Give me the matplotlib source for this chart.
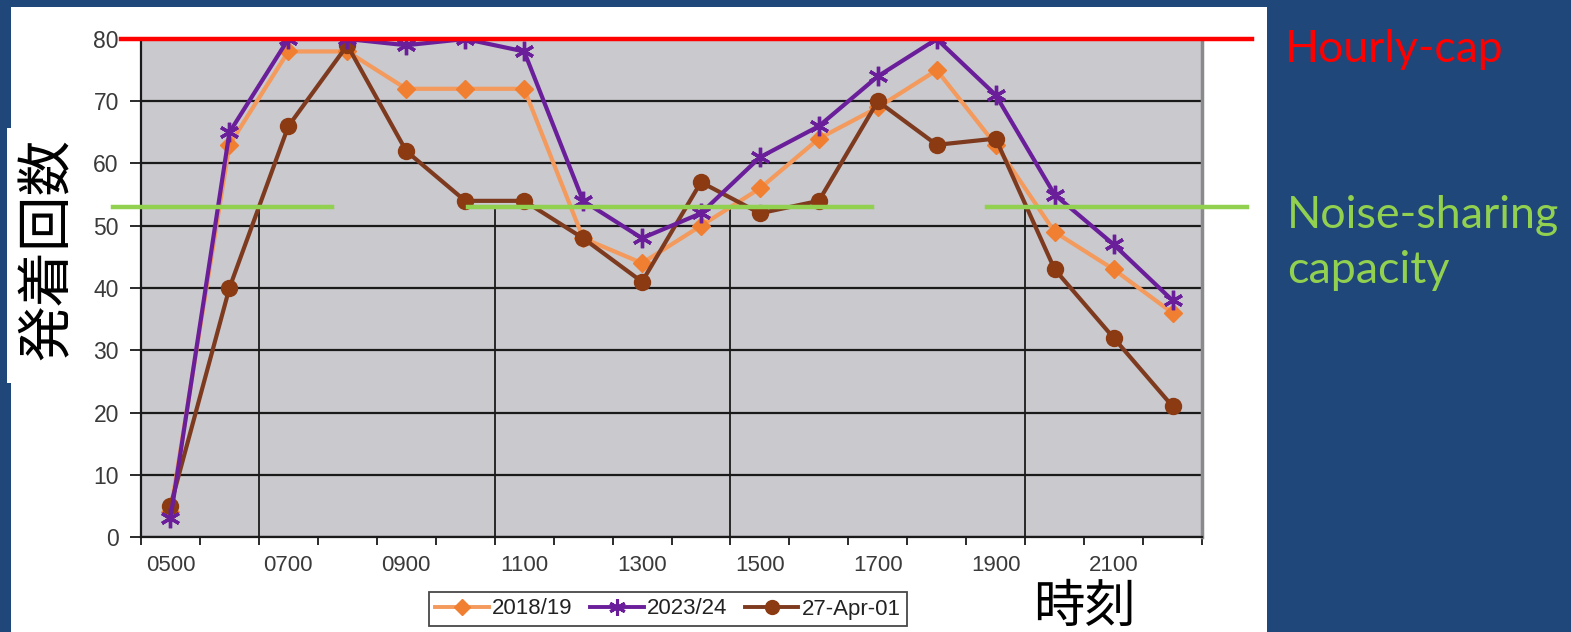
import numpy as np
import matplotlib
matplotlib.use("Agg")
import matplotlib.pyplot as plt
from matplotlib.patches import Rectangle
from matplotlib.lines import Line2D

# Hourly movements (arrivals + departures) by hour of day
hours = list(range(5, 23))
tick_hours = list(range(5, 22, 2))
s2018 = [4, 63, 78, 78, 72, 72, 72, 48, 44, 50, 56, 64, 69, 75, 63, 49, 43, 36]
s2023 = [3, 65, 80, 80, 79, 80, 78, 54, 48, 52, 61, 66, 74, 80, 71, 55, 47, 38]
s2001 = [5, 40, 66, 79, 62, 54, 54, 48, 41, 57, 52, 54, 70, 63, 64, 43, 32, 21]
series_names = ["2018/19", "2023/24", "27-Apr-01"]

hourly_cap = 80
noise_capacity = 53
cap_span = (4.16, 23.35)
noise_periods = [(4.03, 7.74), (10.05, 16.9), (18.85, 23.27)]
period_bounds = [6.5, 10.5, 14.5, 19.5]

W, H = 1571, 632
fig = plt.figure(figsize=(W / 100, H / 100), dpi=100, facecolor="#1F477A")

def fx(px):
    return px / W

def fy(py):
    return 1 - py / H

# white slide panel and the label box
fig.patches.append(Rectangle((fx(11), 0), fx(1267 - 11), fy(7), transform=fig.transFigure,
                             facecolor="white", edgecolor="none", zorder=-2))
fig.patches.append(Rectangle((fx(7), fy(383)), fx(70), (383 - 128) / H, transform=fig.transFigure,
                             facecolor="white", edgecolor="none", zorder=-2))

ax = fig.add_axes([fx(141), fy(537), fx(1202 - 141), (537 - 39) / H])
ax.set_zorder(2)
ax.set_facecolor("#C9C9CE")
ax.set_xlim(4.5, 22.5)
ax.set_ylim(0, 80)

ax.set_yticks(np.arange(0, 81, 10))
ax.yaxis.grid(True, color="#1a1a1a", linewidth=1.6)
ax.set_axisbelow(True)

ax.set_xticks(np.arange(4.5, 23, 1))
ax.set_xticklabels([])
ax.set_xticks(tick_hours, minor=True)
ax.set_xticklabels(["%02d00" % h for h in tick_hours], minor=True)
ax.tick_params(axis="x", which="major", length=6, width=1.3, color="#1a1a1a", direction="out")
ax.tick_params(axis="x", which="minor", length=0, pad=13, labelsize=16, labelcolor="#3a3a3a")
ax.tick_params(axis="y", length=8, width=1.3, color="#1a1a1a", pad=8, labelsize=16.5,
               labelcolor="#3a3a3a")
for lab in ax.get_xticklabels(minor=True) + ax.get_yticklabels():
    lab.set_fontfamily("Liberation Sans")

ax.spines["top"].set_visible(False)
ax.spines["left"].set_color("#1a1a1a")
ax.spines["left"].set_linewidth(1.6)
ax.spines["bottom"].set_color("#1a1a1a")
ax.spines["bottom"].set_linewidth(1.6)
ax.spines["right"].set_color("#8a8a8a")
ax.spines["right"].set_linewidth(2.5)

# period boundaries
for b in period_bounds:
    ax.plot([b, b], [0, noise_capacity], color="#1a1a1a", linewidth=1.3, zorder=1.5)

# series
c_or, c_pu, c_br = "#F07F32", "#6A1E9A", "#8B3A12"
ax.plot(hours, s2018, color="#F39A5C", linewidth=3, marker="D", markersize=9.5,
        markerfacecolor=c_or, markeredgecolor=c_or, zorder=3, label=series_names[0])
ax.plot(hours, s2023, color=c_pu, linewidth=3, marker=(6, 2, 0), markersize=14,
        markeredgewidth=2.4, markeredgecolor=c_pu, zorder=4, label=series_names[1])
ax.plot(hours, s2001, color="#7E3A1E", linewidth=3, marker="o", markersize=11.5,
        markerfacecolor=c_br, markeredgecolor=c_br, zorder=3.5, label=series_names[2])

# capacity lines
ax.plot(cap_span, [hourly_cap, hourly_cap], color="#FF0000", linewidth=3.2, clip_on=False, zorder=6)
for a, b in noise_periods:
    ax.plot([a, b], [noise_capacity, noise_capacity], color="#92D050", linewidth=3.2,
            clip_on=False, zorder=5)

# legend
handles = [
    Line2D([], [], color="#F39A5C", linewidth=2.8, marker="D", markersize=8,
           markerfacecolor=c_or, markeredgecolor=c_or),
    Line2D([], [], color=c_pu, linewidth=2.8, marker=(6, 2, 0), markersize=12,
           markeredgewidth=2.2, markeredgecolor=c_pu),
    Line2D([], [], color="#7E3A1E", linewidth=2.8, marker="o", markersize=10,
           markerfacecolor=c_br, markeredgecolor=c_br),
]
leg = fig.legend(handles, series_names, loc="center", bbox_to_anchor=(fx(668), fy(609)),
                 ncol=3, frameon=True, fancybox=False, edgecolor="#1a1a1a",
                 prop={"family": "Liberation Sans", "size": 16},
                 handlelength=2.4, handletextpad=0.15, columnspacing=0.8,
                 borderpad=0.3, labelcolor="#222222")
leg.get_frame().set_linewidth(1.3)

# axis titles
fig.text(fx(48), fy(249), "発着回数", rotation=90, ha="center", va="center",
         fontsize=40, family=["Noto Sans CJK JP", "DejaVu Sans"], color="black")
fig.text(fx(1084), fy(607), "時刻", ha="center", va="center",
         fontsize=37, family=["Noto Sans CJK JP", "DejaVu Sans"], color="black")

# annotations on the right
fig.text(fx(1285), fy(62), "Hourly-cap", ha="left", va="baseline", fontsize=32,
         family="Lato", color="#FF0000")
fig.text(fx(1287), fy(228), "Noise-sharing", ha="left", va="baseline", fontsize=32.3,
         family="Lato", color="#92D050")
fig.text(fx(1287), fy(283), "capacity", ha="left", va="baseline", fontsize=32.3,
         family="Lato", color="#92D050")

fig.savefig("out.png", dpi=100, facecolor=fig.get_facecolor())
